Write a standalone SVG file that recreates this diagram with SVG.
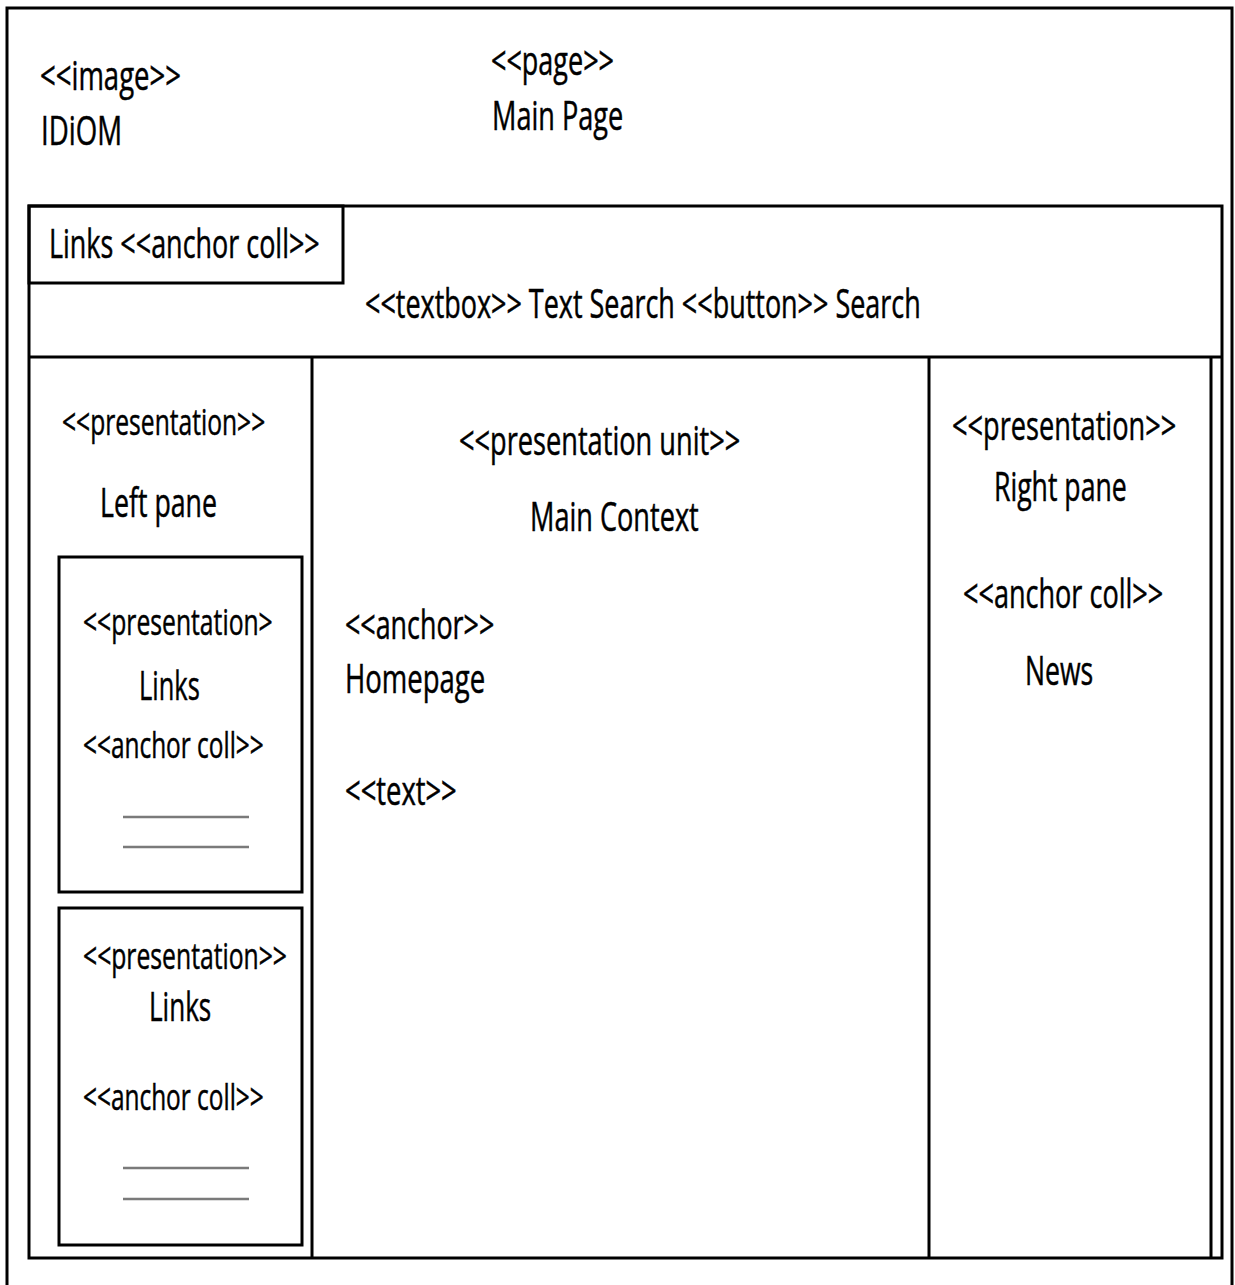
<svg xmlns="http://www.w3.org/2000/svg" width="1235" height="1285" viewBox="0 0 1235 1285">
  <style>
    .box{fill:none;stroke:#000;stroke-width:3}
    .ln{stroke:#000;stroke-width:3;fill:none}
    .rule{stroke:#7a7a7a;stroke-width:2.5}
    text{font-family:"Open Sans","Liberation Sans",sans-serif;font-size:40px;fill:#000;stroke:#000;stroke-width:0.5}
    .sm{font-size:37px}
  </style>
  <rect width="1235" height="1285" fill="#fff"/>

  <!-- page frame, open at the bottom; labels are narrowed with scale(0.75 1) -->
  <g id="page">
    <path class="ln" d="M7,1285 V8 H1232 V1285"/>
    <text transform="translate(40 90) scale(0.75 1)" textLength="188" lengthAdjust="spacingAndGlyphs">&lt;&lt;image&gt;&gt;</text>
    <text transform="translate(41 145) scale(0.75 1)" textLength="108" lengthAdjust="spacingAndGlyphs">IDiOM</text>
    <text transform="translate(491 75) scale(0.75 1)" textLength="164" lengthAdjust="spacingAndGlyphs">&lt;&lt;page&gt;&gt;</text>
    <text transform="translate(492 130) scale(0.75 1)" textLength="175" lengthAdjust="spacingAndGlyphs">Main Page</text>
  </g>

  <!-- body container and search bar -->
  <g id="search-bar">
    <rect class="box" x="29" y="206" width="1193" height="1052"/>
    <line class="ln" x1="29" y1="357" x2="1222" y2="357"/>
    <text transform="translate(365 318) scale(0.75 1)" textLength="741" lengthAdjust="spacingAndGlyphs">&lt;&lt;textbox&gt;&gt; Text Search &lt;&lt;button&gt;&gt; Search</text>
  </g>

  <g id="links-bar">
    <rect class="box" x="29" y="206" width="314" height="77"/>
    <text transform="translate(49 258) scale(0.75 1)" textLength="361" lengthAdjust="spacingAndGlyphs">Links &lt;&lt;anchor coll&gt;&gt;</text>
  </g>

  <g id="left-pane">
    <line class="ln" x1="312" y1="357" x2="312" y2="1258"/>
    <text class="sm" transform="translate(62 435) scale(0.75 1)" textLength="271" lengthAdjust="spacingAndGlyphs">&lt;&lt;presentation&gt;&gt;</text>
    <text transform="translate(100 517) scale(0.75 1)" textLength="156" lengthAdjust="spacingAndGlyphs">Left pane</text>
  </g>

  <g id="links-1">
    <rect class="box" x="59" y="557" width="243" height="335"/>
    <text class="sm" transform="translate(83 635) scale(0.75 1)" textLength="253" lengthAdjust="spacingAndGlyphs">&lt;&lt;presentation&gt;</text>
    <text transform="translate(139 700) scale(0.75 1)" textLength="81" lengthAdjust="spacingAndGlyphs">Links</text>
    <text class="sm" transform="translate(83 758) scale(0.75 1)" textLength="241" lengthAdjust="spacingAndGlyphs">&lt;&lt;anchor coll&gt;&gt;</text>
    <line class="rule" x1="123" y1="817" x2="249" y2="817"/>
    <line class="rule" x1="123" y1="847" x2="249" y2="847"/>
  </g>

  <g id="links-2">
    <rect class="box" x="59" y="908" width="243" height="337"/>
    <text class="sm" transform="translate(83 969) scale(0.75 1)" textLength="272" lengthAdjust="spacingAndGlyphs">&lt;&lt;presentation&gt;&gt;</text>
    <text transform="translate(149 1021) scale(0.75 1)" textLength="83" lengthAdjust="spacingAndGlyphs">Links</text>
    <text class="sm" transform="translate(83 1110) scale(0.75 1)" textLength="241" lengthAdjust="spacingAndGlyphs">&lt;&lt;anchor coll&gt;&gt;</text>
    <line class="rule" x1="123" y1="1168" x2="249" y2="1168"/>
    <line class="rule" x1="123" y1="1199" x2="249" y2="1199"/>
  </g>

  <g id="main-context">
    <text transform="translate(459 455) scale(0.75 1)" textLength="375" lengthAdjust="spacingAndGlyphs">&lt;&lt;presentation unit&gt;&gt;</text>
    <text transform="translate(530 531) scale(0.75 1)" textLength="225" lengthAdjust="spacingAndGlyphs">Main Context</text>
    <text transform="translate(345 639) scale(0.75 1)" textLength="199" lengthAdjust="spacingAndGlyphs">&lt;&lt;anchor&gt;&gt;</text>
    <text transform="translate(345 693) scale(0.75 1)" textLength="187" lengthAdjust="spacingAndGlyphs">Homepage</text>
    <text transform="translate(345 805) scale(0.75 1)" textLength="149" lengthAdjust="spacingAndGlyphs">&lt;&lt;text&gt;&gt;</text>
  </g>

  <g id="right-pane">
    <line class="ln" x1="929" y1="357" x2="929" y2="1258"/>
    <line class="ln" x1="1211" y1="357" x2="1211" y2="1258"/>
    <text transform="translate(952 440) scale(0.75 1)" textLength="299" lengthAdjust="spacingAndGlyphs">&lt;&lt;presentation&gt;&gt;</text>
    <text transform="translate(994 501) scale(0.75 1)" textLength="177" lengthAdjust="spacingAndGlyphs">Right pane</text>
    <text transform="translate(963 608) scale(0.75 1)" textLength="267" lengthAdjust="spacingAndGlyphs">&lt;&lt;anchor coll&gt;&gt;</text>
    <text transform="translate(1025 685) scale(0.75 1)" textLength="91" lengthAdjust="spacingAndGlyphs">News</text>
  </g>

  <g id="connectors"/>
</svg>
